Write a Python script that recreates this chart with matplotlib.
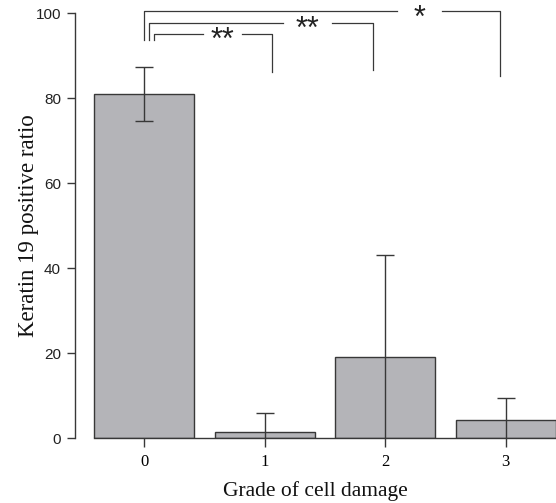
import numpy as np
import matplotlib
matplotlib.use('Agg')
import matplotlib.pyplot as plt

# data
grades = ['0', '1', '2', '3']
ratio_mean = [81.0, 1.6, 19.1, 4.2]
ratio_err = [6.4, 4.3, 24.1, 5.2]

# significance brackets: (left grade, right grade, label)
comparisons = [(0, 3, '*'), (0, 2, '**'), (0, 1, '**')]

'''Style'''
bar_color = '#b4b4b8'
line_color = '#383838'
serif = 'Liberation Serif'
sans = 'Liberation Sans'
bar_width = 0.83

# bracket geometry (hand tuned to the reference)
br_y = [100.5, 97.8, 95.2]
br_left_shift = [0.0, 0.04, 0.08]
br_right_shift = [-0.045, -0.10, 0.065]
br_gap = [(0.711, 0.836), (0.597, 0.817), (0.416, 0.741)]   # gap as fraction of bracket span
br_drop = [85.3, 86.7, 86.3]
br_left_bottom = 93.8

fig = plt.figure(figsize=(5.56, 5.03), dpi=100)
ax = fig.add_axes([0.1349, 0.1286, 0.8651, 0.845])

x = np.arange(len(grades))
ax.bar(x, ratio_mean, width=bar_width, color=bar_color, edgecolor=line_color, linewidth=1.0, zorder=2)
ax.errorbar(x, ratio_mean, yerr=ratio_err, fmt='none', ecolor=line_color, elinewidth=1.0,
            capsize=6.5, capthick=1.0, zorder=3)

ax.set_xlim(-0.573, 3.419)
ax.set_ylim(0, 100)

for s in ['top', 'right']:
    ax.spines[s].set_visible(False)
ax.spines['left'].set_bounds(0, 100)
ax.spines['bottom'].set_bounds(x[0] - bar_width / 2, 3.419)
for s in ['left', 'bottom']:
    ax.spines[s].set_color(line_color)
    ax.spines[s].set_linewidth(1.0)

ax.set_xticks(x)
ax.set_xticklabels(grades, fontfamily=serif, fontsize=12)
ax.set_yticks([0, 20, 40, 60, 80, 100])
ax.set_yticklabels(['0', '20', '40', '60', '80', '100'], fontfamily=sans, fontsize=11, color='#222222')
ax.tick_params(axis='x', direction='out', length=6.5, width=1.0, color=line_color, pad=5)
ax.tick_params(axis='y', direction='out', length=6, width=1.0, color=line_color, pad=4)

ax.set_xlabel('Grade of cell damage', fontfamily=serif, fontsize=15.5, labelpad=8, color='#111111')
ax.set_ylabel('Keratin 19 positive ratio', fontfamily=serif, fontsize=16.5, color='#111111')
ax.yaxis.set_label_coords(-0.075, 0.5)

'''Significance brackets'''
for k, (a, b, label) in enumerate(comparisons):
    y = br_y[k]
    xl = a + br_left_shift[k]
    xr = b + br_right_shift[k]
    span = xr - xl
    g0 = xl + br_gap[k][0] * span
    g1 = xl + br_gap[k][1] * span
    ax.plot([xl, xl, g0], [br_left_bottom, y, y], color=line_color, lw=0.9, clip_on=False, zorder=4)
    ax.plot([g1, xr, xr], [y, y, br_drop[k]], color=line_color, lw=0.9, clip_on=False, zorder=4)
    ax.text((g0 + g1) / 2, y - 1.8, label, ha='center', va='center', fontsize=22, fontfamily=sans,
            color='#222222', zorder=5, clip_on=False)

fig.savefig('out.png', dpi=100)
